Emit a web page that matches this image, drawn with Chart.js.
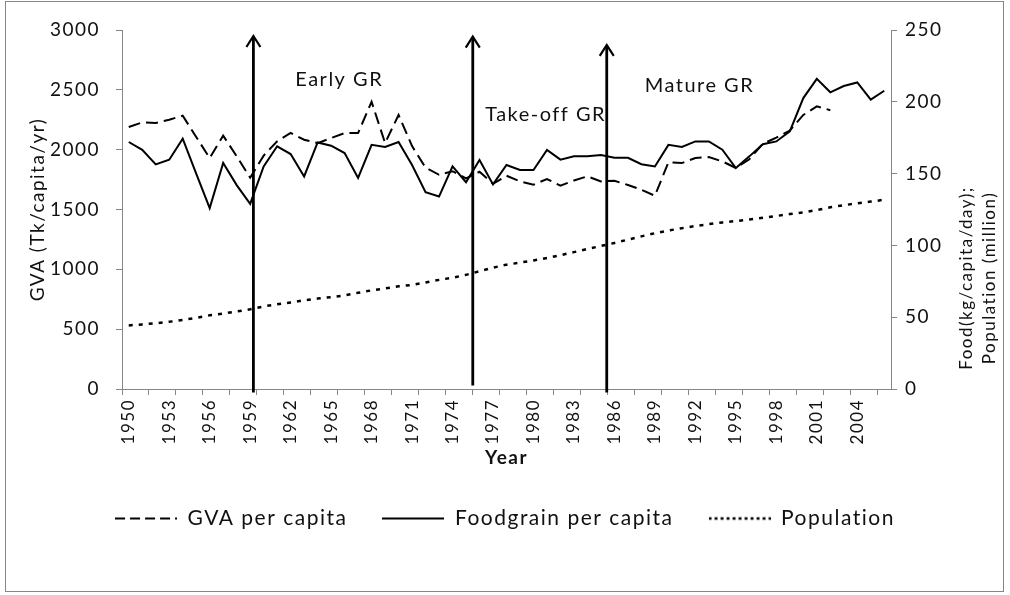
<!DOCTYPE html>
<html>
<head>
<meta charset="utf-8">
<script src="https://cdn.jsdelivr.net/npm/chart.js"></script>
<style>
html, body { margin: 0; padding: 0; background: #fff; }
</style>
</head>
<body>
<canvas id="myChart" width="1010" height="595"></canvas>
<script>
const years = ["1950","1951","1952","1953","1954","1955","1956","1957","1958","1959",
    "1960","1961","1962","1963","1964","1965","1966","1967","1968","1969",
    "1970","1971","1972","1973","1974","1975","1976","1977","1978","1979",
    "1980","1981","1982","1983","1984","1985","1986","1987","1988","1989",
    "1990","1991","1992","1993","1994","1995","1996","1997","1998","1999",
    "2000","2001","2002","2003","2004","2005","2006"];

// GVA per capita, Tk/capita/yr (left axis)
const gvaPerCapita = [2190, 2228, 2223, 2250, 2284, 2106, 1930, 2117, 1945, 1766,
    1950, 2070, 2140, 2083, 2055, 2097, 2139, 2139, 2400, 2055,
    2290, 2030, 1850, 1790, 1820, 1760, 1815, 1715, 1782, 1735,
    1707, 1755, 1699, 1743, 1777, 1735, 1740, 1705, 1665, 1615,
    1894, 1888, 1930, 1938, 1902, 1847, 1920, 2050, 2100, 2160,
    2290, 2362, 2330, null, null, null, null];

// foodgrain per capita (right axis)
const foodgrainPerCapita = [172, 166.6, 156.4, 159.7, 174.3, 150, 126, 157.4, 142, 129,
    155, 169, 163.6, 148, 171.7, 169.4, 164.3, 147, 170, 168.5,
    172, 156, 137, 134, 155, 144, 159.5, 142.5, 156, 152.5,
    152.5, 166.5, 159.7, 162, 162, 163, 161, 161, 156.5, 155,
    170, 168.5, 172.4, 172.4, 166.6, 153.9, 162, 170.5, 172.4, 179.4,
    202.6, 216, 206.6, 211, 213.5, 201.5, 207.7];

// population, million (right axis)
const population = [44.3, 45.0, 45.8, 46.8, 48.0, 49.6, 51.3, 52.5, 54.0, 55.5,
    57.5, 59.0, 60.3, 61.8, 63.0, 64.0, 65.2, 67.0, 68.7, 70.0,
    71.5, 72.5, 74.2, 76.0, 77.5, 79.5, 82.0, 84.5, 86.6, 88.0,
    89.5, 91.2, 93.2, 95.3, 97.5, 99.6, 101.7, 104.0, 106.3, 108.5,
    110.3, 112.0, 113.5, 114.8, 116.0, 117.0, 118.0, 119.3, 120.5, 121.8,
    123.0, 124.6, 126.5, 128.0, 129.3, 130.5, 131.8];

// phase arrows: x in category units, top and bottom on the left axis
const phaseArrows = [[9.24, 2950, -30], [25.5, 2945, 30], [35.43, 2875, -30]];
const phaseLabels = [["Early GR", 15.6, 2584], ["Take-off GR", 30.9, 2291], ["Mature GR", 42.3, 2534]];

const fontFam = "Lato, 'Open Sans', sans-serif";
const axisGray = "#868686";
const ink = "#111";
const spacing = "1.5px";

// small line images used as legend symbols
function legendLine(dash, width) {
    const c = document.createElement("canvas");
    c.width = 62;
    c.height = 8;
    const g = c.getContext("2d");
    g.strokeStyle = "#000";
    g.lineWidth = width;
    g.setLineDash(dash);
    g.beginPath();
    g.moveTo(0, 4);
    g.lineTo(62, 4);
    g.stroke();
    return c;
}
const legendIcons = [legendLine([10, 5], 2), legendLine([], 2), legendLine([3, 3], 2.5)];

const extras = {
    id: "extras",
    beforeLayout(chart) {
        chart.ctx.letterSpacing = spacing;
    },
    beforeDraw(chart) {
        chart.ctx.letterSpacing = spacing;
    },
    afterDatasetsDraw(chart) {
        const ctx = chart.ctx;
        const xs = chart.scales.x;
        const ys = chart.scales.y;
        ctx.save();
        ctx.strokeStyle = "#000";
        ctx.lineCap = "butt";
        for (const a of phaseArrows) {
            const x = xs.getPixelForValue(a[0]);
            const top = ys.getPixelForValue(a[1]);
            const bot = ys.getPixelForValue(a[2]);
            ctx.lineWidth = 2.8;
            ctx.beginPath();
            ctx.moveTo(x, bot);
            ctx.lineTo(x, top + 1);
            ctx.stroke();
            ctx.lineWidth = 2.2;
            ctx.beginPath();
            ctx.moveTo(x - 7, top + 11);
            ctx.lineTo(x, top);
            ctx.lineTo(x + 7, top + 11);
            ctx.stroke();
        }
        ctx.fillStyle = ink;
        ctx.font = "20px " + fontFam;
        ctx.textAlign = "center";
        ctx.textBaseline = "middle";
        for (const l of phaseLabels) {
            ctx.fillText(l[0], xs.getPixelForValue(l[1]), ys.getPixelForValue(l[2]));
        }
        ctx.restore();
    },
    afterDraw(chart) {
        const ctx = chart.ctx;
        ctx.save();
        // right axis title, reads bottom to top
        ctx.fillStyle = ink;
        ctx.font = "17px " + fontFam;
        ctx.textAlign = "center";
        ctx.textBaseline = "middle";
        ctx.translate(978, 278);
        ctx.rotate(-Math.PI / 2);
        ctx.fillText("Food(kg/capita/day);", 0, -11);
        ctx.fillText("Population (million)", 0, 12);
        ctx.restore();
        ctx.save();
        ctx.strokeStyle = axisGray;
        ctx.lineWidth = 1;
        ctx.strokeRect(5.5, 1.5, 998, 590);
        ctx.restore();
    }
};

let myChart = new Chart("myChart", {
    type: "line",
    data: {
        labels: years,
        datasets: [{
            label: "GVA per capita",
            data: gvaPerCapita,
            yAxisID: "y",
            borderColor: "#000",
            borderWidth: 2,
            borderDash: [12, 6],
            pointRadius: 0,
            tension: 0,
            spanGaps: false
        }, {
            label: "Foodgrain per capita",
            data: foodgrainPerCapita,
            yAxisID: "y1",
            borderColor: "#000",
            borderWidth: 2,
            pointRadius: 0,
            tension: 0
        }, {
            label: "Population",
            data: population,
            yAxisID: "y1",
            borderColor: "#000",
            borderWidth: 2.5,
            borderDash: [4, 6],
            pointRadius: 0,
            tension: 0
        }]
    },
    options: {
        responsive: false,
        animation: false,
        layout: { padding: { top: 30, left: 0, right: 0, bottom: 56 } },
        plugins: {
            tooltip: { enabled: false },
            legend: {
                position: "bottom",
                labels: {
                    usePointStyle: true,
                    pointStyleWidth: 62,
                    padding: 35,
                    color: ink,
                    font: { family: fontFam, size: 21 },
                    generateLabels(chart) {
                        const items = Chart.defaults.plugins.legend.labels.generateLabels(chart);
                        items.forEach((it, i) => { it.pointStyle = legendIcons[i]; });
                        return items;
                    }
                }
            }
        },
        scales: {
            x: {
                offset: true,
                grid: {
                    offset: true,
                    drawOnChartArea: false,
                    tickLength: 6,
                    tickColor: c => (c.index % 2 === 0 ? axisGray : "rgba(0,0,0,0)")
                },
                border: { color: axisGray },
                ticks: {
                    autoSkip: false,
                    maxRotation: 90,
                    minRotation: 90,
                    padding: 4,
                    color: ink,
                    font: { family: fontFam, size: 17 },
                    callback: (v, i) => (i % 3 === 0 ? years[i] : "")
                },
                title: {
                    display: true,
                    text: "Year",
                    color: ink,
                    font: { family: fontFam, size: 19, weight: "bold" },
                    padding: { top: 0, bottom: 4 }
                },
                afterFit: s => { s.height = 84; }
            },
            y: {
                position: "left",
                min: 0,
                max: 3000,
                grid: { drawOnChartArea: false, tickLength: 6, color: axisGray },
                border: { color: axisGray },
                ticks: { stepSize: 500, padding: 16, color: ink, font: { family: fontFam, size: 19 }, callback: v => v },
                title: {
                    display: true,
                    text: "GVA (Tk/capita/yr)",
                    color: ink,
                    font: { family: fontFam, size: 19 },
                    padding: { top: 26, bottom: 0 }
                },
                afterFit: s => { s.width = 122; }
            },
            y1: {
                position: "right",
                min: 0,
                max: 250,
                grid: { drawOnChartArea: false, tickLength: 6, color: axisGray },
                border: { color: axisGray },
                ticks: { stepSize: 50, padding: 8, color: ink, font: { family: fontFam, size: 19 }, callback: v => v },
                afterFit: s => { s.width = 119; }
            }
        }
    },
    plugins: [extras]
});
</script>
</body>
</html>
